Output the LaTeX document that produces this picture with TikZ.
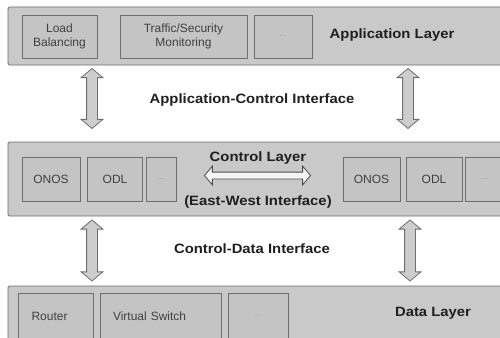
\documentclass[tikz,border=0pt]{standalone}
\usepackage{graphicx}
\usepackage{fontspec}
\setmainfont{Liberation Sans}
\usetikzlibrary{shapes.arrows}
\definecolor{layerfill}{HTML}{C9C9C9}
\definecolor{boxfill}{HTML}{C4C4C4}
\definecolor{edge}{HTML}{6E6E6E}
\definecolor{arrowfill}{HTML}{CDCDCD}
\newcommand{\wide}[1]{\scalebox{1.1}[1]{#1}}
\tikzset{
  layer/.style={draw=edge, fill=layerfill, line width=0.9pt, rounded corners=1.5pt},
  inbox/.style={draw=edge, fill=boxfill, line width=0.8pt, align=center, font=\fontsize{12}{14}\selectfont, text=black!75},
  dotsbox/.style={draw=edge, fill=boxfill, line width=0.8pt, font=\fontsize{8}{9}\selectfont, text=black!40},
  bigtext/.style={font=\bfseries\fontsize{13.5}{15}\selectfont, text=black!88, inner sep=0pt},
  vert/.style={double arrow, rotate=90, draw=edge, fill=arrowfill, line width=0.8pt,
    inner sep=5pt, double arrow head extend=5.5pt, double arrow tip angle=100, anchor=center},
  horiz/.style={double arrow, draw=black!70, fill=white!92!gray, line width=0.8pt,
    inner sep=3pt, double arrow head extend=6pt, double arrow tip angle=100, anchor=center},
}
\begin{document}
\begin{tikzpicture}[x=1pt, y=-1pt]
\useasboundingbox (0,0) rectangle (500,337);
\clip (0,0) rectangle (500,337);
\fill[white] (0,0) rectangle (500,337);
% Application layer
\draw[layer] (8,7) rectangle (510,65);
\node[inbox, minimum width=75pt, minimum height=43pt] (lb) at (59.5,36.5) {Load\\Balancing};
\node[inbox, minimum width=127pt, minimum height=43pt] (tsm) at (183.5,36.5) {Traffic/Security\\Monitoring};
\node[dotsbox, minimum width=58pt, minimum height=43pt] (adots) at (283,36.5) {...};
\node[bigtext] (appl) at (392,35) {\wide{Application Layer}};
% Application-Control arrows
\node[vert, minimum height=60pt] (ac1) at (92,98.5) {};
\node[vert, minimum height=60pt] (ac2) at (408,98.5) {};
\node[bigtext] (aci) at (252,100) {\wide{Application-Control Interface}};
% Control layer
\draw[layer] (8,142) rectangle (510,216);
\node[inbox, minimum width=58pt, minimum height=44pt] (onos1) at (51,179) {ONOS};
\node[inbox, minimum width=55pt, minimum height=44pt] (odl1) at (115,179) {ODL};
\node[dotsbox, minimum width=30pt, minimum height=44pt] (cdots1) at (161,179) {...};
\node[inbox, minimum width=57pt, minimum height=44pt] (onos2) at (371.5,179.5) {ONOS};
\node[inbox, minimum width=56pt, minimum height=44pt] (odl2) at (434,179.5) {ODL};
\node[dotsbox, minimum width=40pt, minimum height=44pt] (cdots2) at (485,179.5) {...};
\node[bigtext] (ctl) at (258,158) {\wide{Control Layer}};
\node[horiz, minimum height=106pt] (ew) at (257.5,175.5) {};
\node[bigtext] (ewi) at (258,202) {\wide{(East-West Interface)}};
% Control-Data arrows
\node[vert, minimum height=61pt] (cd1) at (92,250.5) {};
\node[vert, minimum height=61pt] (cd2) at (410,250.5) {};
\node[bigtext] (cdi) at (252,249) {\wide{Control-Data Interface}};
% Data layer
\draw[layer] (8,286) rectangle (510,350);
\node[inbox, minimum width=75pt, minimum height=46pt, text width=48pt, align=left] (rt) at (55.5,316) {Router};
\node[inbox, minimum width=121pt, minimum height=46pt, text width=95pt, align=left] (vs) at (160.5,316) {Virtual Switch};
\node[dotsbox, minimum width=60pt, minimum height=46pt] (ddots) at (258,316) {...};
\node[bigtext] (dl) at (433,313) {\wide{Data Layer}};
\end{tikzpicture}
\end{document}
